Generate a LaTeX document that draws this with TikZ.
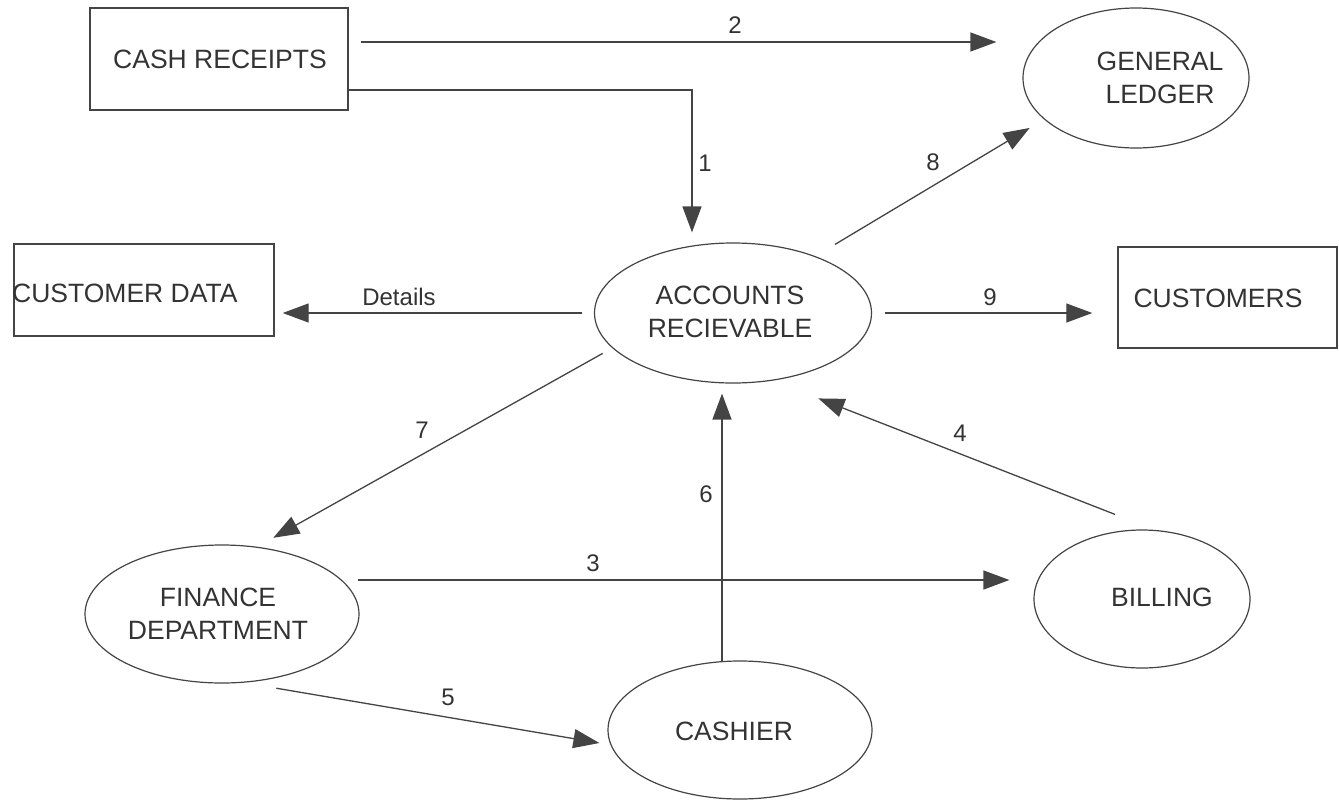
\documentclass[tikz,border=0pt]{standalone}
\usepackage{fontspec}
\setmainfont{Liberation Sans}
\usetikzlibrary{arrows.meta,shapes.geometric,calc}
\definecolor{ink}{HTML}{333333}
\definecolor{lineink}{HTML}{444444}
\begin{document}
\begin{tikzpicture}[x=1pt,y=-1pt,
  box/.style={draw=lineink, line width=1.4pt, rectangle, inner sep=0pt},
  proc/.style={draw=lineink, line width=1.2pt, ellipse, inner sep=0pt},
  txt/.style={text=ink, font=\fontsize{26.5}{33}\selectfont, align=center, inner sep=0pt},
  lbl/.style={text=ink, font=\fontsize{24}{28}\selectfont, inner sep=0pt},
  flow/.style={draw=lineink, line width=1.3pt, -{Triangle[length=26pt,width=19pt]}},
  plainline/.style={draw=lineink, line width=1.3pt}]
\useasboundingbox (0,0) rectangle (1339,801);
\fill[white] (0,0) rectangle (1339,801);

% external entities
\node[box, minimum width=258pt, minimum height=102pt] (cr) at (219,59) {};
\node[txt] (crt) at (220,59) {CASH RECEIPTS};
\node[box, minimum width=260pt, minimum height=92pt] (cd) at (144,290) {};
\node[txt, anchor=west] (cdt) at (12,293) {CUSTOMER DATA};
\node[box, minimum width=219pt, minimum height=101pt] (cu) at (1227.5,297.5) {};
\node[txt] (cut) at (1218,298) {CUSTOMERS};

% processes
\node[proc, minimum width=226pt, minimum height=140pt] (gl) at (1136,78) {};
\node[txt] (glt) at (1160,78) {GENERAL\\LEDGER};
\node[proc, minimum width=277pt, minimum height=140pt] (ar) at (733,313) {};
\node[txt] (art) at (730,312) {ACCOUNTS\\RECIEVABLE};
\node[proc, minimum width=274pt, minimum height=138pt] (fd) at (222,614) {};
\node[txt] (fdt) at (218,614) {FINANCE\\DEPARTMENT};
\node[proc, minimum width=264pt, minimum height=138pt] (ca) at (740,730) {};
\node[txt] (cat) at (734,731) {CASHIER};
\node[proc, minimum width=216pt, minimum height=138pt] (bi) at (1142,599) {};
\node[txt] (bit) at (1162,597) {BILLING};

% flows
\draw[flow] ($(cr.east)+(12,-17)$) -- ($(gl.west)+(-26,-36)$);
\node[lbl] (l2) at (735,25) {2};

\draw[flow] ($(cr.east)+(0,31)$) -| ($(ar.north)+(-41,-10)$);
\node[lbl] (l1) at (705,163) {1};

\draw[flow] ($(ar.north)+(102,2)$) -- ($(gl.south west)+(-26,0)$);
\node[lbl] (l8) at (933,162) {8};

\draw[flow] ($(ar.west)+(-12,0)$) -- ($(cd.east)+(8,23)$);
\node[lbl] (ld) at (399,297) {Details};

\draw[flow] ($(ar.east)+(13,0)$) -- ($(cu.west)+(-25,15.5)$);
\node[lbl] (l9) at (990,297) {9};

\draw[flow] ($(ar.south west)+(-32,-9.5)$) -- ($(fd.north east)+(-46,-27)$);
\node[lbl] (l7) at (422,430) {7};

\draw[flow] ($(fd.east)+(-2,-34)$) -- ($(bi.west)+(-24,-19)$);
\node[lbl] (l3) at (593,563) {3};

\draw[flow] ($(fd.south east)+(-43,25)$) -- ($(ca.west)+(-8,13)$);
\node[lbl] (l5) at (448,697) {5};

\draw[flow] ($(ca.north)+(-18,1)$) -- ($(ar.south)+(-11,10)$);
\node[lbl] (l6) at (706,494) {6};

\draw[flow] ($(bi.north)+(-27,-15)$) -- ($(ar.south east)+(-13,35.5)$);
\node[lbl] (l4) at (960,433) {4};
\end{tikzpicture}
\end{document}
